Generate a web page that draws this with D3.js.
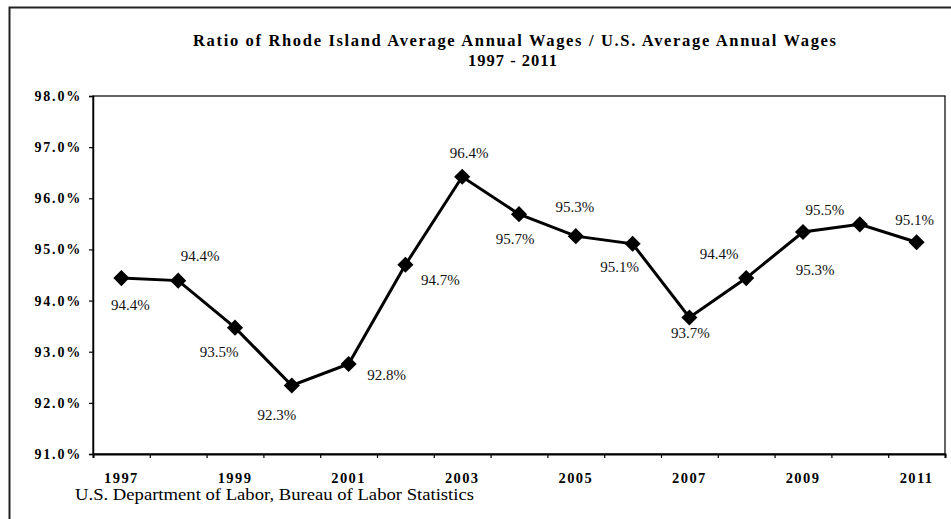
<!DOCTYPE html>
<html>
<head>
<meta charset="utf-8">
<script src="https://cdn.jsdelivr.net/npm/d3@7"></script>
<style>
  html, body { margin: 0; padding: 0; background: #fff; }
  svg { display: block; font-family: "Liberation Serif", "Times New Roman", serif; }
</style>
</head>
<body>
<svg id="chart" width="951" height="519"></svg>
<script>
// Rhode Island / U.S. average annual wage ratio, 1997–2011
const years = [1997, 1998, 1999, 2000, 2001, 2002, 2003, 2004, 2005, 2006, 2007, 2008, 2009, 2010, 2011];
const ratios = [0.9444, 0.9439, 0.9347, 0.9234, 0.9276, 0.9470, 0.9642, 0.9569, 0.9526, 0.9511, 0.9367, 0.9444, 0.9534, 0.9549, 0.9514];
const yTicks = [0.91, 0.92, 0.93, 0.94, 0.95, 0.96, 0.97, 0.98];
const xTickLabels = [1997, 1999, 2001, 2003, 2005, 2007, 2009, 2011];
const titleLines = ["Ratio of Rhode Island Average Annual Wages / U.S. Average Annual Wages", "1997 - 2011"];
const sourceNote = "U.S. Department of Labor, Bureau of Labor Statistics";

// Where each value label sits relative to its marker (dx, dy)
const labelOffsets = [
  [9, 27], [22, -25], [-16, 24], [-15, 30], [38, 11], [35, 15], [7, -24], [-4, 25],
  [-1, -29], [-13, 23], [1, 16], [-27, -24], [12, 38], [-35, -14], [-2, -22]
];

const svg = d3.select("#chart");
const plot = { left: 93, right: 945, top: 96, bottom: 454 };
const serif = "'Liberation Serif', 'Times New Roman', serif";

// Outer frame
svg.append("rect")
  .attr("x", 9.5).attr("y", 7.5)
  .attr("width", 960).attr("height", 540)
  .attr("fill", "none").attr("stroke", "#222").attr("stroke-width", 2);

// Title
const title = svg.append("g").attr("font-weight", "bold").attr("fill", "#000");
title.append("text")
  .attr("x", 193).attr("y", 46)
  .attr("font-size", 16.5)
  .attr("textLength", 643).attr("lengthAdjust", "spacing")
  .text(titleLines[0]);
title.append("text")
  .attr("x", 513).attr("y", 66)
  .attr("text-anchor", "middle")
  .attr("font-size", 16.5)
  .attr("letter-spacing", 1)
  .text(titleLines[1]);

// Scales
const x = d3.scaleBand().domain(years).range([plot.left, plot.right]).padding(0);
const xEdge = d3.scaleLinear().domain([0, years.length]).range([plot.left, plot.right]);
const y = d3.scaleLinear().domain([0.91, 0.98]).range([plot.bottom, plot.top]);
const cx = d => x(d) + x.bandwidth() / 2;

// Plot frame
svg.append("rect")
  .attr("x", plot.left).attr("y", plot.top)
  .attr("width", plot.right - plot.left).attr("height", plot.bottom - plot.top)
  .attr("fill", "none").attr("stroke", "#111").attr("stroke-width", 1.3);

// Y axis
const yAxis = svg.append("g")
  .attr("transform", `translate(${plot.left},0)`)
  .call(d3.axisLeft(y).tickValues(yTicks).tickFormat(d3.format(".1%")).tickSize(4).tickPadding(7));
yAxis.select(".domain").attr("stroke", "#000").attr("stroke-width", 1.5);
yAxis.selectAll(".tick line").attr("stroke", "#000").attr("stroke-width", 1.2);
yAxis.selectAll(".tick text")
  .attr("font-family", serif)
  .attr("font-size", 14).attr("font-weight", "bold").attr("fill", "#000")
  .attr("letter-spacing", 1.8);

// X axis: boundary ticks
const xTicks = svg.append("g")
  .attr("transform", `translate(0,${plot.bottom})`)
  .call(d3.axisBottom(xEdge).tickValues(d3.range(0, years.length + 1)).tickFormat("").tickSize(4));
xTicks.select(".domain").attr("stroke", "#000").attr("stroke-width", 2);
xTicks.selectAll(".tick line").attr("stroke", "#000").attr("stroke-width", 1.2);

// X axis: year labels at every other category
const xLabels = svg.append("g")
  .attr("transform", `translate(0,${plot.bottom})`)
  .call(d3.axisBottom(x).tickValues(xTickLabels).tickSize(0).tickPadding(19));
xLabels.select(".domain").remove();
xLabels.selectAll(".tick text")
  .attr("font-family", serif)
  .attr("font-size", 14.5).attr("font-weight", "bold").attr("fill", "#000")
  .attr("letter-spacing", 1.4);

// Series line
const line = d3.line().x((d, i) => cx(years[i])).y(d => y(d));
svg.append("path")
  .datum(ratios)
  .attr("d", line)
  .attr("fill", "none").attr("stroke", "#000").attr("stroke-width", 3)
  .attr("stroke-linejoin", "miter");

// Diamond markers
const diamond = d3.symbol().type(d3.symbolSquare).size(130);
svg.append("g").selectAll("path")
  .data(ratios)
  .join("path")
  .attr("d", diamond)
  .attr("transform", (d, i) => `translate(${cx(years[i])},${y(d)}) rotate(45)`)
  .attr("fill", "#000");

// Value labels
const fmt = d3.format(".1%");
svg.append("g").selectAll("text")
  .data(ratios)
  .join("text")
  .attr("x", (d, i) => cx(years[i]) + labelOffsets[i][0])
  .attr("y", (d, i) => y(d) + labelOffsets[i][1])
  .attr("text-anchor", "middle")
  .attr("dominant-baseline", "central")
  .attr("font-size", 15)
  .attr("fill", "#111")
  .text(d => fmt(d));

// Source note
svg.append("text")
  .attr("x", 75).attr("y", 500)
  .attr("font-size", 16)
  .attr("textLength", 399).attr("lengthAdjust", "spacingAndGlyphs")
  .attr("fill", "#000")
  .text(sourceNote);
</script>
</body>
</html>
